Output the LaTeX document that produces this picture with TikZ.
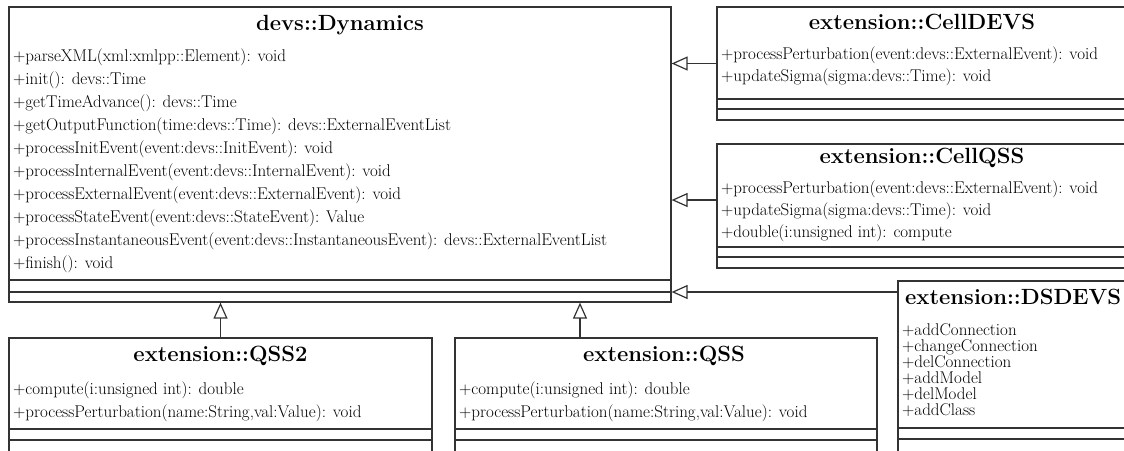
\documentclass[tikz,border=0pt]{standalone}
\usepackage{amsmath,amssymb}
\usepackage{tikz}
\usetikzlibrary{arrows.meta}

\begin{document}
\begin{tikzpicture}[x=1pt,y=-1pt]
\tikzset{clase/.style={draw=black!80,line width=1.2pt,rectangle,inner sep=0pt},
  linea/.style={draw=black!80,line width=1.2pt},
  titulo/.style={inner sep=0pt,font=\fontsize{22}{24}\selectfont\bfseries},
  metodo/.style={anchor=west,inner sep=0pt,text height=12pt,text depth=4pt,font=\fontsize{17}{23}\selectfont},
  hereda/.style={-{Triangle[open,length=16pt,width=14pt]},draw=black!80,line width=1.2pt}}
\useasboundingbox (0,0) rectangle (1124,450);

% Clases
\node (dyn) at (340,154.5) [clase,minimum width=662pt,minimum height=295pt] {};
\node (celldevs) at (922,63.5) [clase,minimum width=410pt,minimum height=113pt] {};
\node (cellqss) at (922,206) [clase,minimum width=410pt,minimum height=124pt] {};
\node (dsdevs) at (1019,370.5) [clase,minimum width=242pt,minimum height=179pt] {};
\node (qss2) at (220.5,399) [clase,minimum width=423pt,minimum height=122pt] {};
\node (qss) at (666,399) [clase,minimum width=422pt,minimum height=122pt] {};

% Compartimentos
\draw[linea] (dyn.west |- 0,280) -- (dyn.east |- 0,280);
\draw[linea] (dyn.west |- 0,292) -- (dyn.east |- 0,292);
\draw[linea] (celldevs.west |- 0,99) -- (celldevs.east |- 0,99);
\draw[linea] (celldevs.west |- 0,109) -- (celldevs.east |- 0,109);
\draw[linea] (cellqss.west |- 0,247) -- (cellqss.east |- 0,247);
\draw[linea] (cellqss.west |- 0,257) -- (cellqss.east |- 0,257);
\draw[linea] (dsdevs.west |- 0,428) -- (dsdevs.east |- 0,428);
\draw[linea] (dsdevs.west |- 0,439) -- (dsdevs.east |- 0,439);
\draw[linea] (qss2.west |- 0,429) -- (qss2.east |- 0,429);
\draw[linea] (qss2.west |- 0,440) -- (qss2.east |- 0,440);
\draw[linea] (qss.west |- 0,429) -- (qss.east |- 0,429);
\draw[linea] (qss.west |- 0,440) -- (qss.east |- 0,440);

% devs::Dynamics
\node (dyn-t) at (340,25) [titulo] {devs::Dynamics};
\node (dyn-1) at (13,57) [metodo] {+parseXML(xml:xmlpp::Element): void};
\node (dyn-2) at (13,80.1) [metodo] {+init(): devs::Time};
\node (dyn-3) at (13,103.2) [metodo] {+getTimeAdvance(): devs::Time};
\node (dyn-4) at (13,126.3) [metodo] {+getOutputFunction(time:devs::Time): devs::ExternalEventList};
\node (dyn-5) at (13,149.4) [metodo] {+processInitEvent(event:devs::InitEvent): void};
\node (dyn-6) at (13,172.5) [metodo] {+processInternalEvent(event:devs::InternalEvent): void};
\node (dyn-7) at (13,195.6) [metodo] {+processExternalEvent(event:devs::ExternalEvent): void};
\node (dyn-8) at (13,218.7) [metodo] {+processStateEvent(event:devs::StateEvent): Value};
\node (dyn-9) at (13,241.8) [metodo] {+processInstantaneousEvent(event:devs::InstantaneousEvent): devs::ExternalEventList};
\node (dyn-10) at (13,264.9) [metodo] {+finish(): void};

% extension::CellDEVS
\node (celldevs-t) at (922,22) [titulo] {extension::CellDEVS};
\node (celldevs-1) at (721,55) [metodo] {+processPerturbation(event:devs::ExternalEvent): void};
\node (celldevs-2) at (721,77) [metodo] {+updateSigma(sigma:devs::Time): void};

% extension::CellQSS
\node (cellqss-t) at (922,158) [titulo] {extension::CellQSS};
\node (cellqss-1) at (721,189) [metodo] {+processPerturbation(event:devs::ExternalEvent): void};
\node (cellqss-2) at (721,211) [metodo] {+updateSigma(sigma:devs::Time): void};
\node (cellqss-3) at (721,233) [metodo] {+double(i:unsigned int): compute};

% extension::DSDEVS
\node (dsdevs-t) at (905,297) [titulo,anchor=west] {extension::DSDEVS};
\node (dsdevs-1) at (902,331) [metodo] {+addConnection};
\node (dsdevs-2) at (902,347) [metodo] {+changeConnection};
\node (dsdevs-3) at (902,363) [metodo] {+delConnection};
\node (dsdevs-4) at (902,379) [metodo] {+addModel};
\node (dsdevs-5) at (902,395) [metodo] {+delModel};
\node (dsdevs-6) at (902,411) [metodo] {+addClass};

% extension::QSS2 y extension::QSS
\node (qss2-t) at (220.5,356) [titulo] {extension::QSS2};
\node (qss2-1) at (13,390) [metodo] {+compute(i:unsigned int): double};
\node (qss2-2) at (13,413) [metodo] {+processPerturbation(name:String,val:Value): void};
\node (qss-t) at (664,356) [titulo] {extension::QSS};
\node (qss-1) at (459,390) [metodo] {+compute(i:unsigned int): double};
\node (qss-2) at (459,413) [metodo] {+processPerturbation(name:String,val:Value): void};

% Herencia
\draw[hereda] (celldevs.west) -- (celldevs.west -| dyn.east);
\draw[hereda] (cellqss.west |- 0,200) -- (dyn.east |- 0,200);
\draw[hereda] (dsdevs.west |- 0,292) -- (dyn.east |- 0,292);
\draw[hereda] (qss2.north) -- (qss2.north |- dyn.south);
\draw[hereda] (qss.north -| 580,0) -- (dyn.south -| 580,0);

\end{tikzpicture}
\end{document}
